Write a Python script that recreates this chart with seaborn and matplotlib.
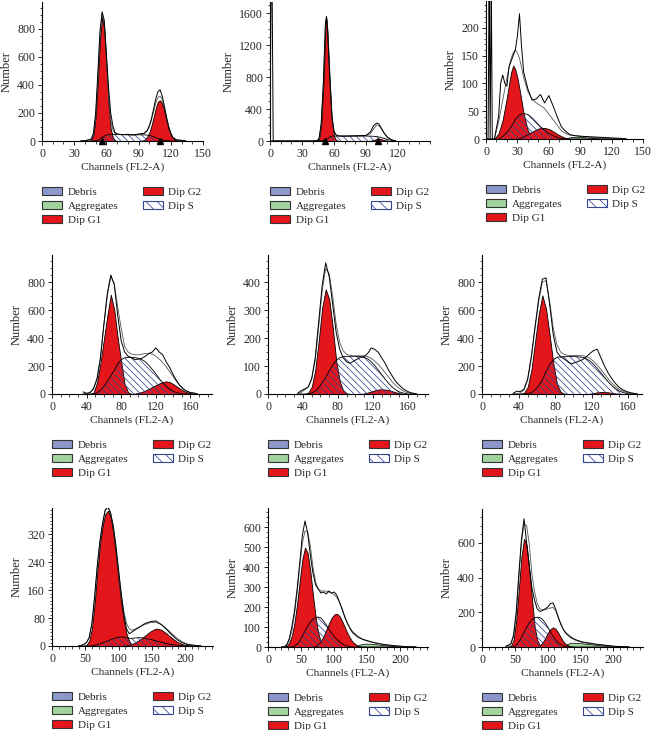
import numpy as np
import matplotlib
matplotlib.use("Agg")
import matplotlib.pyplot as plt
import seaborn as sns
from matplotlib.patches import Patch
from matplotlib.ticker import MultipleLocator

# ---- panel 1 ----
CH1 = [36, 40, 44, 46, 48, 50, 52, 54, 56, 58, 60, 62, 64, 66, 68, 70, 75, 80, 85, 90, 95,
       98, 100, 102, 104, 106, 108, 110, 112, 114, 116, 118, 120, 122, 125, 130, 134]
G1_1 = [0, 0, 0, 8, 45, 170, 430, 720, 880, 800, 540, 260, 90, 25, 5, 0, 0, 0, 0, 0, 0,
        0, 0, 0, 0, 0, 0, 0, 0, 0, 0, 0, 0, 0, 0, 0, 0]
S1 = [0, 0, 0, 0, 0, 2, 5, 15, 25, 35, 42, 46, 48, 48, 47, 46, 45, 44, 44, 44, 44,
      42, 40, 36, 30, 24, 18, 12, 8, 5, 3, 1, 0, 0, 0, 0, 0]
G2_1 = [0, 0, 0, 0, 0, 0, 0, 0, 0, 0, 0, 0, 0, 0, 0, 0, 0, 0, 0, 0, 5,
        30, 60, 110, 170, 235, 280, 290, 265, 210, 145, 85, 45, 20, 5, 0, 0]
RAW1 = [0, 2, 10, 15, 60, 200, 480, 780, 920, 860, 620, 380, 200, 110, 60, 50, 45, 48, 42, 50, 55,
        75, 110, 160, 230, 300, 350, 365, 320, 250, 170, 100, 55, 25, 10, 5, 0]
FIT1 = [0, 1, 6, 12, 50, 180, 440, 740, 905, 840, 590, 320, 150, 80, 55, 48, 46, 45, 45, 46, 52,
        72, 100, 150, 210, 270, 310, 320, 295, 240, 170, 105, 55, 25, 8, 2, 0]
MARK1 = [56, 110]

# ---- panel 2 ----
CH2 = [0, 1, 2, 3, 40, 44, 46, 48, 50, 52, 53, 54, 56, 58, 60, 62, 65, 70, 80, 90,
       94, 97, 100, 102, 104, 107, 110, 114, 118]
G1_2 = [0, 0, 0, 0, 0, 0, 20, 200, 700, 1450, 1530, 1350, 750, 250, 60, 10, 0, 0, 0, 0,
        0, 0, 0, 0, 0, 0, 0, 0, 0]
S2 = [0, 0, 0, 0, 0, 0, 0, 2, 5, 15, 22, 30, 50, 60, 62, 62, 62, 62, 62, 62,
      61, 59, 55, 50, 44, 32, 20, 6, 0]
G2_2 = [0, 0, 0, 0, 0, 0, 0, 0, 0, 0, 0, 0, 0, 0, 0, 0, 0, 0, 0, 0,
        3, 12, 25, 30, 25, 12, 3, 0, 0]
RAW2 = [0, 1900, 1900, 0, 0, 5, 30, 220, 720, 1480, 1560, 1380, 800, 320, 120, 75, 62, 60, 65, 70,
        110, 190, 225, 215, 170, 100, 50, 15, 0]
FIT2 = [0, 0, 0, 0, 0, 3, 25, 210, 710, 1470, 1550, 1370, 800, 310, 125, 75, 62, 62, 63, 66,
        90, 150, 200, 195, 160, 95, 45, 12, 0]
MARK2 = [52, 101]

# ---- panel 3 ----
CH3 = [0, 2, 3, 4, 5, 6, 8, 12, 14, 16, 18, 20, 22, 24, 26, 28, 30, 32, 34, 36,
       40, 44, 48, 52, 56, 60, 64, 68, 72, 76, 80, 85, 90, 100, 110, 120, 130, 134]
G1_3 = [0, 0, 0, 0, 0, 0, 0, 10, 22, 35, 55, 75, 98, 120, 132, 125, 110, 90, 68, 45,
        15, 3, 0, 0, 0, 0, 0, 0, 0, 0, 0, 0, 0, 0, 0, 0, 0, 0]
S3 = [0, 0, 0, 0, 0, 0, 0, 0, 2, 5, 8, 12, 17, 22, 28, 35, 39, 43, 45, 46,
      44, 38, 30, 22, 16, 10, 6, 3, 1, 0, 0, 0, 0, 0, 0, 0, 0, 0]
G2_3 = [0, 0, 0, 0, 0, 0, 0, 0, 0, 0, 0, 0, 0, 0, 0, 0, 1, 2, 3, 5,
        9, 13, 17, 20, 20, 18, 14, 9, 5, 2, 0, 0, 0, 0, 0, 0, 0, 0]
AG3 = [0, 0, 0, 0, 0, 0, 0, 0, 0, 0, 0, 0, 0, 0, 0, 0, 0, 0, 0, 0,
       0, 0, 0, 0, 0, 0, 0, 0, 0, 1, 3, 4, 4, 2, 1, 1, 0, 0]
RAW3 = [0, 0, 300, 0, 300, 0, 0, 40, 100, 115, 100, 95, 130, 140, 150, 160, 185, 225, 165, 120,
        90, 70, 72, 80, 65, 78, 60, 40, 22, 14, 8, 6, 5, 4, 3, 2, 1, 0]
FIT3 = [0, 0, 0, 0, 0, 0, 0, 30, 50, 70, 90, 110, 128, 145, 155, 160, 155, 145, 128, 110,
        85, 72, 65, 60, 55, 45, 35, 25, 15, 10, 7, 6, 5, 3, 2, 1, 0, 0]

# ---- panel 4 ----
CH4 = [36, 40, 44, 48, 52, 56, 60, 64, 68, 72, 76, 80, 84, 88, 92, 96, 100, 104, 108, 112,
       116, 120, 124, 128, 132, 136, 140, 144, 148, 152, 156, 160, 164, 168]
G1_4 = [0, 0, 0, 10, 80, 220, 390, 560, 710, 600, 400, 230, 70, 12, 0, 0, 0, 0, 0, 0,
        0, 0, 0, 0, 0, 0, 0, 0, 0, 0, 0, 0, 0, 0]
S4 = [0, 0, 0, 0, 8, 25, 55, 90, 130, 170, 215, 245, 258, 262, 262, 260, 255, 245, 230, 205,
      175, 145, 110, 80, 55, 35, 20, 10, 4, 1, 0, 0, 0, 0]
G2_4 = [0, 0, 0, 0, 0, 0, 0, 0, 0, 0, 0, 0, 0, 0, 0, 3, 8, 15, 25, 37,
        50, 63, 75, 85, 90, 85, 72, 55, 38, 23, 12, 5, 2, 0]
RAW4 = [15, 5, 10, 40, 110, 260, 500, 720, 850, 780, 560, 380, 300, 270, 260, 245, 250, 255, 270, 290,
        300, 330, 300, 280, 230, 190, 140, 95, 60, 35, 20, 10, 8, 0]
FIT4 = [0, 3, 10, 35, 100, 250, 490, 700, 840, 790, 620, 470, 340, 300, 285, 280, 280, 285, 290, 290,
        285, 270, 250, 225, 195, 160, 125, 90, 60, 37, 20, 10, 4, 0]

# ---- panel 5 ----
CH5 = [34, 38, 42, 46, 50, 54, 58, 62, 66, 70, 74, 78, 82, 86, 90, 94, 98, 102, 106, 110,
       114, 118, 122, 126, 130, 134, 138, 142, 146, 150, 154, 158, 162, 166, 170]
G1_5 = [0, 0, 0, 5, 25, 85, 190, 310, 375, 340, 240, 120, 45, 12, 2, 0, 0, 0, 0, 0,
        0, 0, 0, 0, 0, 0, 0, 0, 0, 0, 0, 0, 0, 0, 0]
S5 = [0, 0, 0, 0, 3, 10, 22, 40, 60, 83, 104, 120, 130, 134, 135, 135, 135, 135, 133, 131,
      126, 116, 102, 86, 70, 53, 38, 25, 15, 8, 4, 1, 0, 0, 0]
G2_5 = [0, 0, 0, 0, 0, 0, 0, 0, 0, 0, 0, 0, 0, 0, 0, 0, 0, 0, 0, 2,
        5, 9, 13, 16, 17, 16, 14, 10, 6, 3, 1, 0, 0, 0, 0]
RAW5 = [3, 12, 18, 25, 55, 130, 260, 390, 470, 420, 320, 220, 160, 130, 115, 110, 118, 125, 132, 135,
        145, 165, 160, 150, 130, 110, 85, 65, 45, 32, 20, 12, 6, 3, 0]
FIT5 = [0, 6, 15, 25, 55, 120, 240, 370, 450, 430, 350, 250, 185, 155, 142, 138, 137, 137, 137, 136,
        134, 128, 118, 106, 92, 76, 60, 44, 31, 20, 12, 6, 3, 1, 0]

# ---- panel 6 ----
CH6 = [34, 38, 42, 46, 50, 54, 58, 62, 66, 70, 74, 78, 82, 86, 90, 94, 98, 102, 106, 110,
       114, 118, 122, 126, 130, 134, 138, 142, 146, 150, 154, 158, 162, 166, 170]
G1_6 = [0, 0, 0, 8, 50, 170, 370, 570, 705, 610, 420, 220, 70, 15, 2, 0, 0, 0, 0, 0,
        0, 0, 0, 0, 0, 0, 0, 0, 0, 0, 0, 0, 0, 0, 0]
S6 = [0, 0, 0, 0, 3, 10, 30, 60, 100, 160, 210, 245, 262, 266, 267, 267, 267, 267, 265, 262,
      252, 236, 212, 183, 152, 118, 87, 60, 38, 22, 11, 5, 2, 0, 0]
G2_6 = [0, 0, 0, 0, 0, 0, 0, 0, 0, 0, 0, 0, 0, 0, 0, 0, 0, 0, 0, 0,
        0, 2, 7, 12, 15, 15, 12, 8, 4, 2, 0, 0, 0, 0, 0]
RAW6 = [5, 20, 18, 35, 110, 270, 480, 680, 820, 830, 640, 420, 300, 265, 250, 230, 215, 225, 235, 245,
        265, 290, 310, 320, 260, 200, 150, 110, 75, 48, 30, 18, 10, 5, 0]
FIT6 = [0, 3, 8, 30, 100, 260, 470, 660, 800, 810, 660, 470, 350, 300, 282, 276, 275, 275, 275, 273,
        268, 255, 234, 207, 176, 142, 108, 78, 53, 34, 20, 11, 5, 2, 0]

# ---- panel 7 ----
CH7 = [40, 44, 48, 52, 56, 60, 64, 68, 72, 76, 80, 84, 88, 92, 96, 100, 104, 108, 112, 116,
       120, 124, 132, 140, 148, 156, 164, 172, 180, 188, 196, 204, 214, 224]
G1_7 = [0, 0, 0, 3, 15, 50, 120, 210, 290, 345, 378, 388, 372, 325, 260, 190, 125, 72, 35, 14,
        4, 0, 0, 0, 0, 0, 0, 0, 0, 0, 0, 0, 0, 0]
S7 = [0, 0, 0, 0, 0, 0, 2, 4, 6, 9, 12, 15, 18, 21, 23, 25, 26, 25, 24, 22,
      22, 23, 24, 22, 19, 15, 11, 7, 4, 2, 1, 0, 0, 0]
G2_7 = [0, 0, 0, 0, 0, 0, 0, 0, 0, 0, 0, 0, 0, 0, 0, 0, 0, 1, 2, 4,
        6, 9, 18, 30, 42, 50, 47, 36, 23, 12, 5, 2, 0, 0]
RAW7 = [0, 2, 5, 10, 25, 65, 140, 230, 300, 350, 390, 400, 380, 345, 290, 220, 150, 90, 50, 35,
        40, 45, 55, 65, 70, 72, 62, 48, 32, 18, 9, 4, 2, 0]
FIT7 = [0, 1, 4, 10, 25, 65, 140, 225, 300, 355, 390, 398, 385, 345, 285, 215, 150, 100, 65, 50,
        45, 48, 55, 62, 67, 68, 62, 50, 36, 22, 12, 5, 2, 0]

# ---- panel 8 ----
CH8 = [20, 24, 28, 32, 36, 40, 44, 48, 52, 56, 60, 64, 68, 72, 76, 80, 84, 88, 92, 96,
       100, 104, 108, 112, 116, 120, 124, 128, 136, 144, 152, 160, 176, 192, 208, 224]
G1_8 = [0, 0, 5, 20, 55, 120, 215, 330, 440, 497, 470, 380, 260, 150, 70, 25, 7, 0, 0, 0,
        0, 0, 0, 0, 0, 0, 0, 0, 0, 0, 0, 0, 0, 0, 0, 0]
S8 = [0, 0, 0, 0, 0, 5, 15, 30, 55, 80, 105, 125, 140, 148, 150, 145, 130, 110, 90, 70,
      52, 38, 26, 16, 9, 5, 2, 0, 0, 0, 0, 0, 0, 0, 0, 0]
G2_8 = [0, 0, 0, 0, 0, 0, 0, 0, 0, 0, 0, 0, 0, 5, 15, 30, 55, 85, 115, 145,
        162, 167, 155, 130, 100, 70, 45, 25, 5, 0, 0, 0, 0, 0, 0, 0]
AG8 = [0, 0, 0, 0, 0, 0, 0, 0, 0, 0, 0, 0, 0, 0, 0, 0, 0, 0, 0, 0,
       0, 0, 0, 0, 0, 0, 0, 2, 10, 16, 17, 15, 9, 4, 1, 0]
RAW8 = [0, 0, 10, 40, 100, 180, 290, 420, 560, 630, 570, 460, 370, 310, 290, 270, 275, 265, 280, 270,
        275, 260, 225, 190, 150, 120, 95, 75, 52, 38, 30, 22, 12, 6, 2, 0]
FIT8 = [0, 0, 8, 30, 80, 160, 270, 400, 520, 580, 575, 505, 400, 325, 290, 280, 280, 280, 275, 270,
        262, 248, 225, 192, 155, 120, 92, 70, 48, 36, 28, 22, 12, 6, 2, 0]

# ---- panel 9 ----
CH9 = [36, 40, 44, 48, 52, 56, 60, 64, 68, 72, 76, 80, 84, 88, 92, 96, 100, 104, 108, 112,
       116, 120, 124, 128, 136, 144, 152, 160, 168, 176, 184, 192, 200, 208, 216, 224]
G1_9 = [0, 0, 5, 40, 150, 330, 520, 625, 585, 440, 280, 120, 40, 10, 0, 0, 0, 0, 0, 0,
        0, 0, 0, 0, 0, 0, 0, 0, 0, 0, 0, 0, 0, 0, 0, 0]
S9 = [0, 0, 0, 0, 10, 30, 55, 85, 115, 140, 158, 168, 172, 170, 160, 140, 115, 88, 62, 40,
      24, 13, 6, 2, 0, 0, 0, 0, 0, 0, 0, 0, 0, 0, 0, 0]
G2_9 = [0, 0, 0, 0, 0, 0, 0, 0, 0, 0, 0, 0, 0, 8, 25, 50, 80, 103, 113, 105,
        82, 55, 30, 14, 2, 0, 0, 0, 0, 0, 0, 0, 0, 0, 0, 0]
AG9 = [0, 0, 0, 0, 0, 0, 0, 0, 0, 0, 0, 0, 0, 0, 0, 0, 0, 0, 0, 0,
       0, 0, 6, 15, 25, 24, 21, 18, 15, 12, 9, 6, 3, 1, 0, 0]
RAW9 = [5, 10, 20, 70, 200, 420, 620, 740, 600, 470, 340, 270, 220, 205, 210, 220, 230, 250, 255, 220,
        170, 130, 100, 80, 55, 40, 30, 25, 20, 15, 12, 8, 5, 3, 2, 0]
FIT9 = [0, 5, 15, 60, 180, 390, 600, 710, 700, 590, 420, 320, 250, 220, 215, 215, 220, 225, 228, 210,
        175, 135, 100, 75, 50, 36, 27, 22, 17, 13, 10, 7, 4, 2, 1, 0]

LEGEND_LABELS = ["Debris", "Aggregates", "Dip G1", "Dip G2", "Dip S"]

RED = "#e3161c"
GREEN = "#a3d4a0"
BLUE = "#8c97cc"
NAVY = "#34448f"
HATCH = "\\" * 5

sns.set_theme(style="ticks")
plt.rcParams["font.family"] = ["Liberation Serif", "DejaVu Serif"]
plt.rcParams["hatch.linewidth"] = 0.55
plt.rcParams["axes.linewidth"] = 0.8

W, H = 653, 730
fig = plt.figure(figsize=(W / 100, H / 100), dpi=100)

# (data..., box in pixels l,t,r,b, xlim, x tick max, x step, x minor, ylim, y tick max, y step, y minor, marks)
panels = [
    (CH1, G1_1, S1, G2_1, None, RAW1, FIT1, (42, 2, 203, 141), 150, 150, 30, 10, 990, 800, 200, 50, MARK1),
    (CH2, G1_2, S2, G2_2, None, RAW2, FIT2, (270, 2, 430, 141), 150, 120, 30, 10, 1740, 1600, 400, 100, MARK2),
    (CH3, G1_3, S3, G2_3, AG3, RAW3, FIT3, (486, 1, 643, 139), 150, 150, 30, 10, 248, 200, 50, 10, None),
    (CH4, G1_4, S4, G2_4, None, RAW4, FIT4, (52, 255, 212, 394), 185, 160, 40, 10, 993, 800, 200, 50, None),
    (CH5, G1_5, S5, G2_5, None, RAW5, FIT5, (268, 255, 428, 394), 183, 160, 40, 10, 498, 400, 100, 25, None),
    (CH6, G1_6, S6, G2_6, None, RAW6, FIT6, (482, 255, 642, 394), 175, 160, 40, 10, 993, 800, 200, 50, None),
    (CH7, G1_7, S7, G2_7, None, RAW7, FIT7, (52, 508, 213, 646), 242, 200, 50, 10, 396, 320, 80, 10, None),
    (CH8, G1_8, S8, G2_8, AG8, RAW8, FIT8, (268, 508, 428, 647), 242, 200, 50, 10, 695, 600, 100, 25, None),
    (CH9, G1_9, S9, G2_9, AG9, RAW9, FIT9, (482, 509, 643, 647), 245, 200, 50, 10, 796, 600, 200, 50, None),
]

handles = [
    Patch(facecolor=BLUE, edgecolor="#333333", linewidth=0.8),
    Patch(facecolor=GREEN, edgecolor="#333333", linewidth=0.8),
    Patch(facecolor=RED, edgecolor="#333333", linewidth=0.8),
    Patch(facecolor=RED, edgecolor="#333333", linewidth=0.8),
    Patch(facecolor="white", edgecolor=NAVY, hatch="\\\\\\", linewidth=0.8),
]

for (ch, g1, s, g2, ag, raw, fit, box, xmax, xtmax, xstep, xminor,
     ymax, ytmax, ystep, yminor, marks) in panels:
    l, t, r, b = box
    ax = fig.add_axes([l / W, (H - b) / H, (r - l) / W, (b - t) / H])
    ch = np.asarray(ch, dtype=float)

    # components are overlapped, not stacked
    ax.fill_between(ch, 0, s, facecolor="white", edgecolor="none", zorder=1)
    if ag is not None:
        ax.fill_between(ch, 0, ag, facecolor=GREEN, edgecolor="black", linewidth=0.5, zorder=2)
    ax.fill_between(ch, 0, g1, facecolor=RED, edgecolor="black", linewidth=0.6, zorder=3)
    ax.fill_between(ch, 0, g2, facecolor=RED, edgecolor="black", linewidth=0.6, zorder=3)
    ax.fill_between(ch, 0, s, facecolor="none", edgecolor=NAVY, hatch=HATCH,
                    linewidth=0, zorder=4)
    ax.plot(ch, s, color="black", linewidth=0.6, zorder=5)
    sns.lineplot(x=ch, y=fit, ax=ax, color="#555555", linewidth=0.6, zorder=6)
    sns.lineplot(x=ch, y=raw, ax=ax, color="black", linewidth=0.7, zorder=7)
    if marks is not None:
        ax.plot(marks, [0] * len(marks), marker="^", linestyle="none", color="black",
                markersize=4, clip_on=False, zorder=8)

    ax.set_xlim(0, xmax)
    ax.set_ylim(0, ymax)
    ax.set_xticks(np.arange(0, xtmax + 1, xstep))
    ax.set_yticks(np.arange(0, ytmax + 1, ystep))
    ax.xaxis.set_minor_locator(MultipleLocator(xminor))
    ax.yaxis.set_minor_locator(MultipleLocator(yminor))
    sns.despine(ax=ax)
    for sp in ("left", "bottom"):
        ax.spines[sp].set_color("black")
    ax.tick_params(which="major", direction="out", length=3, width=0.6,
                   labelsize=8.5, pad=2, color="black")
    ax.tick_params(which="minor", direction="out", length=1.8, width=0.5, color="black")
    ax.set_xlabel("Channels (FL2-A)", fontsize=8.2, labelpad=2)
    ax.set_ylabel("Number", fontsize=9, labelpad=3)
    ax.set_facecolor("white")

    ax.legend(handles=handles, labels=LEGEND_LABELS, loc="upper left",
              bbox_to_anchor=(0, -46 / (b - t)), ncol=2, frameon=False, fontsize=8,
              borderpad=0, borderaxespad=0, handlelength=1.8, handleheight=0.7,
              handletextpad=0.5, columnspacing=2.2, labelspacing=0.4)

fig.savefig("out.png", dpi=100, facecolor="white")
